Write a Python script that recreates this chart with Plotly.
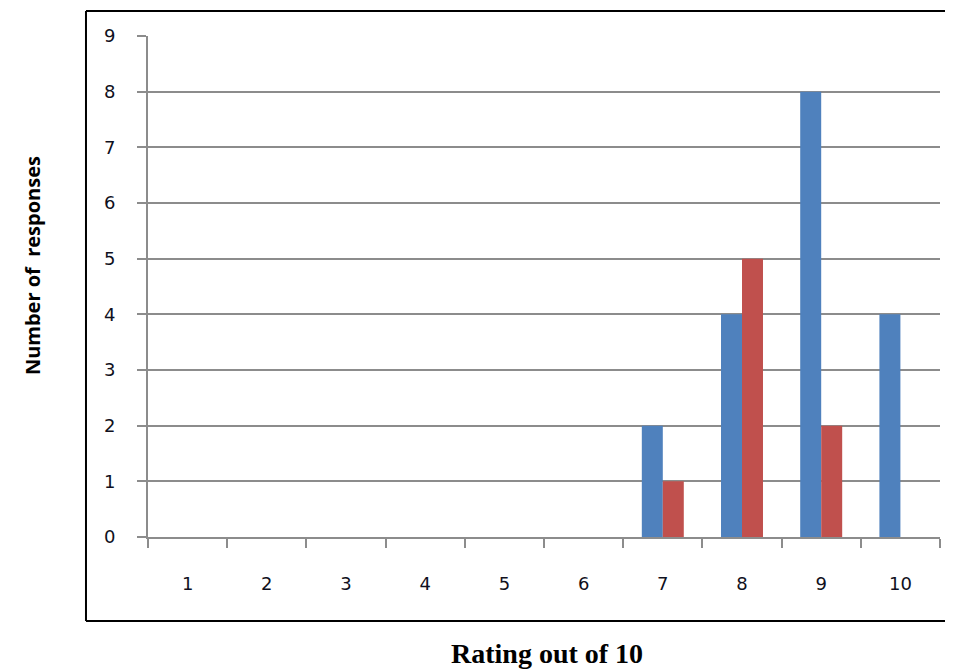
import plotly.graph_objects as go

categories = ["1", "2", "3", "4", "5", "6", "7", "8", "9", "10"]
series_a = [0, 0, 0, 0, 0, 0, 2, 4, 8, 4]
series_b = [0, 0, 0, 0, 0, 0, 1, 5, 2, 0]
y_ticks = [0, 1, 2, 3, 4, 5, 6, 7, 8, 9]

fig = go.Figure()
fig.add_trace(go.Bar(x=categories, y=series_a, marker=dict(color="#4F81BD", line=dict(width=0)), name="A"))
fig.add_trace(go.Bar(x=categories, y=series_b, marker=dict(color="#C0504D", line=dict(width=0)), name="B"))

grid = "#8c8c8c"
tickfont = dict(family="DejaVu Sans", size=18, color="#101020")

fig.update_layout(
    width=945, height=664,
    margin=dict(l=140, r=13, t=28, b=135),
    paper_bgcolor="white", plot_bgcolor="white",
    showlegend=False,
    barmode="group", bargap=0.47, bargroupgap=0,
    xaxis=dict(
        type="category", tickson="boundaries", ticks="outside", ticklen=9, tickwidth=2,
        tickcolor=grid, showline=True, linecolor=grid, linewidth=2, showgrid=False,
        tickfont=tickfont, ticklabelstandoff=29, fixedrange=True,
    ),
    yaxis=dict(
        range=[0, 9], tickvals=y_ticks, ticks="outside", ticklen=9, tickwidth=2,
        tickcolor=grid, showline=True, linecolor=grid, linewidth=2,
        showgrid=True, gridcolor=grid, gridwidth=2, zeroline=False,
        tickfont=tickfont, ticklabelstandoff=18, fixedrange=True,
    ),
    annotations=[
        dict(text="<b>Number of  responses</b>", xref="paper", yref="paper",
             x=-0.145, y=0.541, textangle=-90, showarrow=False,
             xanchor="center", yanchor="middle",
             font=dict(family="Open Sans", size=20, color="black")),
        dict(text="<b>Rating out of 10</b>", xref="paper", yref="paper",
             x=0.504, y=-0.232, showarrow=False,
             xanchor="center", yanchor="middle",
             font=dict(family="Liberation Serif", size=28, color="black")),
    ],
    shapes=[
        dict(type="line", xref="paper", yref="paper", x0=-0.0783, x1=1.05, y0=1.05, y1=1.05,
             line=dict(color="black", width=2)),
        dict(type="line", xref="paper", yref="paper", x0=-0.0783, x1=1.05, y0=-0.1677, y1=-0.1677,
             line=dict(color="black", width=2)),
        dict(type="line", xref="paper", yref="paper", x0=-0.0783, x1=-0.0783, y0=-0.1677, y1=1.05,
             line=dict(color="black", width=2)),
    ],
)

fig.write_html("out.html")
